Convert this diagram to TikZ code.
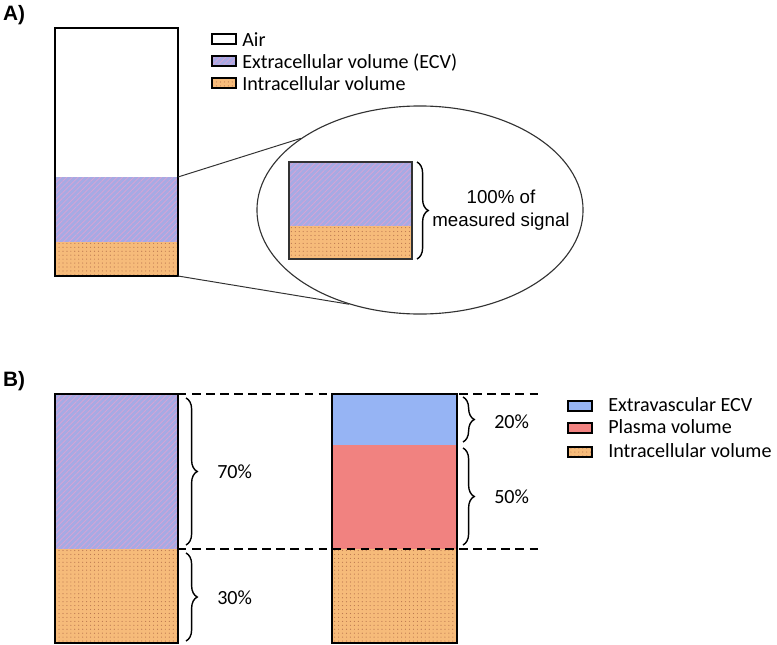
\documentclass[tikz,border=0pt]{standalone}
\usepackage{fontspec}
\setmainfont{Carlito}
\newfontfamily\arialfont{Liberation Sans}
\usetikzlibrary{shapes.geometric,patterns.meta,decorations.pathreplacing}
\definecolor{ecvfill}{RGB}{166,170,228}
\definecolor{ecvline}{RGB}{212,164,214}
\definecolor{icvfill}{RGB}{246,187,122}
\definecolor{icvdot}{RGB}{188,120,80}
\definecolor{evfill}{RGB}{150,180,244}
\definecolor{plfill}{RGB}{241,130,128}
\definecolor{linegray}{RGB}{50,50,50}
\tikzset{
    ecv/.style={preaction={fill=ecvfill}, preaction={pattern={Lines[angle=45,distance=2.8pt,line width=0.6pt]}, pattern color=ecvline}},
    icv/.style={preaction={fill=icvfill}, preaction={pattern={Dots[distance=2.8pt,radius=0.42pt]}, pattern color=icvdot}},
    ev/.style={fill=evfill},
    pl/.style={fill=plfill},
    column/.style={draw, line width=1.9pt},
    inset/.style={draw=linegray, line width=0.8pt},
    key/.style={draw, line width=1.3pt, minimum width=0.6cm, minimum height=0.27cm, inner sep=0pt},
    brace/.style={decorate, decoration={brace, amplitude=8pt}, line width=1pt},
    label/.style={font=\fontsize{14.3}{17}\selectfont, anchor=base west, inner sep=0pt},
    pct/.style={font=\fontsize{14.3}{17}\selectfont, anchor=west, inner sep=0pt},
    guide/.style={dash pattern=on 6pt off 4pt, line width=1pt},
    zoomline/.style={draw=linegray, line width=0.7pt},
    panel/.style={font=\arialfont\bfseries\fontsize{14.8}{17}\selectfont, inner sep=0pt},
}
\begin{document}
\begin{tikzpicture}[x=0.025cm, y=-0.025cm]
    \useasboundingbox (0,0) rectangle (777,645);

    % panel A
    \node[panel] (labA) at (14,15) {A)};
    \path[ecv] (55,177) rectangle (178,242);
    \path[icv] (55,242) rectangle (178,276);
    \draw[column] (55,28) rectangle (178,276);
    \coordinate (colA-ecv) at (178,177);
    \coordinate (colA-bot) at (178,276);

    \node[key] (keyAir) at (224,39) {};
    \node[key, ecv] (keyEcv) at (224,61) {};
    \node[key, icv] (keyIcv) at (224,83) {};
    \node[label] (txtAir) at (242,46) {Air};
    \node[label] (txtEcv) at (242,68) {Extracellular volume (ECV)};
    \node[label] (txtIcv) at (242,90) {Intracellular volume};

    \node[ellipse, draw=linegray, line width=0.8pt, minimum width=8.15cm, minimum height=5.2cm] (zoom) at (420,210) {};
    \draw[zoomline] (colA-ecv) -- (zoom.149);
    \draw[zoomline] (colA-bot) -- (zoom.233);

    \path[ecv] (289,162) rectangle (412,226);
    \path[icv] (289,226) rectangle (412,259);
    \draw[inset] (289,162) rectangle (412,259);
    \coordinate (inTop) at (417,162);
    \coordinate (inBot) at (417,259);
    \draw[brace] (inTop) -- (inBot);
    \node[font=\arialfont\fontsize{13.3}{16.4}\selectfont, align=center] (signal) at (501,210) {100\% of\\measured signal};

    % panel B
    \node[panel] (labB) at (14,381) {B)};
    \path[ecv] (55,394) rectangle (178,549);
    \path[icv] (55,549) rectangle (178,643);
    \draw[column] (55,394) rectangle (178,643);

    \path[ev] (332,394) rectangle (457,445);
    \path[pl] (332,445) rectangle (457,549);
    \path[icv] (332,549) rectangle (457,643);
    \draw[column] (332,394) rectangle (457,643);

    \coordinate (topL) at (178,394);
    \coordinate (topR) at (541,394);
    \coordinate (midL) at (178,549);
    \coordinate (midR) at (541,549);
    \draw[guide] (topL) -- (topR);
    \draw[guide] (midL) -- (midR);

    \draw[brace] (186,398) -- (186,545);
    \draw[brace] (186,553) -- (186,641);
    \draw[brace] (463,397) -- (463,442);
    \draw[brace] (463,448) -- (463,545);
    \node[pct] (p70) at (217,472) {70\%};
    \node[pct] (p30) at (217,598) {30\%};
    \node[pct] (p20) at (494,422) {20\%};
    \node[pct] (p50) at (494,497) {50\%};

    \node[key, ev, minimum width=0.6cm, minimum height=0.25cm] (keyEv) at (580,406) {};
    \node[key, pl, minimum width=0.6cm, minimum height=0.25cm] (keyPl) at (580,428) {};
    \node[key, icv, minimum width=0.6cm, minimum height=0.25cm] (keyIcvB) at (580,452) {};
    \node[label] (txtEv) at (608,411) {Extravascular ECV};
    \node[label] (txtPl) at (608,433) {Plasma volume};
    \node[label] (txtIcvB) at (608,457) {Intracellular volume};
\end{tikzpicture}
\end{document}
